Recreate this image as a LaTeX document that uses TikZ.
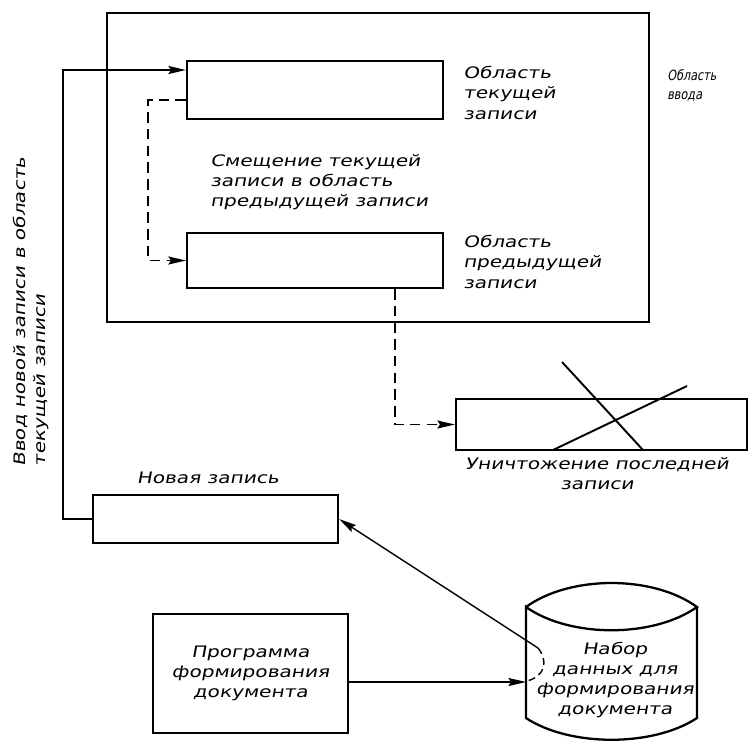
\documentclass[tikz,border=0pt]{standalone}
\usepackage{fontspec}
\newfontfamily\gost[FakeStretch=1.27,FakeSlant=0.18]{DejaVu Sans}
\newfontfamily\gostn[FakeStretch=0.8,FakeSlant=0.18]{DejaVu Sans}
\usetikzlibrary{arrows.meta,calc,positioning}
\tikzset{
  blk/.style={draw, line width=1.3pt, inner sep=0pt},
  lbl/.style={inner sep=0pt, align=left, font=\gost\fontsize{9}{11.5}\selectfont},
  arr/.style={line width=0.8pt, -{Stealth[length=10pt,width=4.6pt,inset=1.5pt]}},
  dsh/.style={dashed, dash pattern=on 6pt off 3.5pt}
}
\begin{document}
\begin{tikzpicture}[x=0.02cm,y=-0.02cm]
                    \useasboundingbox (0,0) rectangle (749,741);
                    \node[blk, minimum width=10.84cm, minimum height=6.18cm] (input) at (378,167.5) {};
                    \node[blk, minimum width=5.12cm, minimum height=1.16cm] (cur) at (315,90) {};
                    \node[blk, minimum width=5.12cm, minimum height=1.1cm] (prev) at (315,260.5) {};
                    \node[blk, minimum width=5.82cm, minimum height=1.02cm] (kill) at (601.5,424.5) {};
                    \node[blk, minimum width=4.9cm, minimum height=0.96cm] (newrec) at (215.5,519) {};
                    \node[blk, minimum width=3.9cm, minimum height=2.38cm, lbl, align=center] (prog) at (250.5,673.5) {Программа\\формирования\\документа};
                    \node[lbl, anchor=north west] (curlbl) at (463,66) {Область\\текущей\\записи};
                    \node[lbl, anchor=north west] (prevlbl) at (463,235) {Область\\предыдущей\\записи};
                    \node[lbl, anchor=north west, font=\gostn\fontsize{8}{11}\selectfont] (inputlbl) at (667,69) {Область\\ввода};
                    \node[lbl, anchor=north west] (shiftlbl) at (210,154) {Смещение текущей\\записи в область\\предыдущей записи};
                    \node[lbl, anchor=north, align=center] (killlbl) at (597,457) {Уничтожение последней\\записи};
                    \node[lbl, anchor=north] (newlbl) at (208,472) {Новая запись};
                    \node[lbl, anchor=north west, rotate=90] (entrylbl) at (13,467) {Ввод новой записи в область\\текущей записи};
                    \draw[line width=1.3pt] (526,607) .. controls (570,575) and (653,575) .. (697,607)
                        .. controls (653,638) and (570,638) .. (526,607) -- (526,718)
                        .. controls (570,747) and (653,747) .. (697,718) -- (697,607);
                    \node[lbl, align=center] (datalbl) at (615,680) {Набор\\данных для\\формирования\\документа};
                    \coordinate (dbl) at (526,607);
                    \coordinate (dsarc) at (538,648);
                    \draw[dsh, dash pattern=on 4pt off 2.5pt, line width=0.8pt] (dsarc) .. controls (548,660) and (546,676) .. (527,681);
                    \draw[line width=1.1pt] (562,362) -- (643,450);
                    \draw[line width=1.1pt] (553,450) -- (687,386);
                    \coordinate (lt) at (63,70);
                    \coordinate (lb) at (63,519);
                    \draw[arr] (newrec.west) -- (lb) -- (lt) -- (lt -| cur.west);
                    \coordinate (dtop) at (148,100);
                    \draw[arr, dsh] (dtop -| cur.west) -- (dtop) |- (prev.west);
                    \coordinate (dk) at (395,300);
                    \draw[arr, dsh] (prev.south -| dk) |- (kill.west);
                    \draw[arr] (dsarc) -- (newrec.east);
                    \coordinate (progout) at ($(prog.north east)!0.57!(prog.south east)$);
                    \draw[arr] (progout) -- (progout -| dbl);
                \end{tikzpicture}
\end{document}
